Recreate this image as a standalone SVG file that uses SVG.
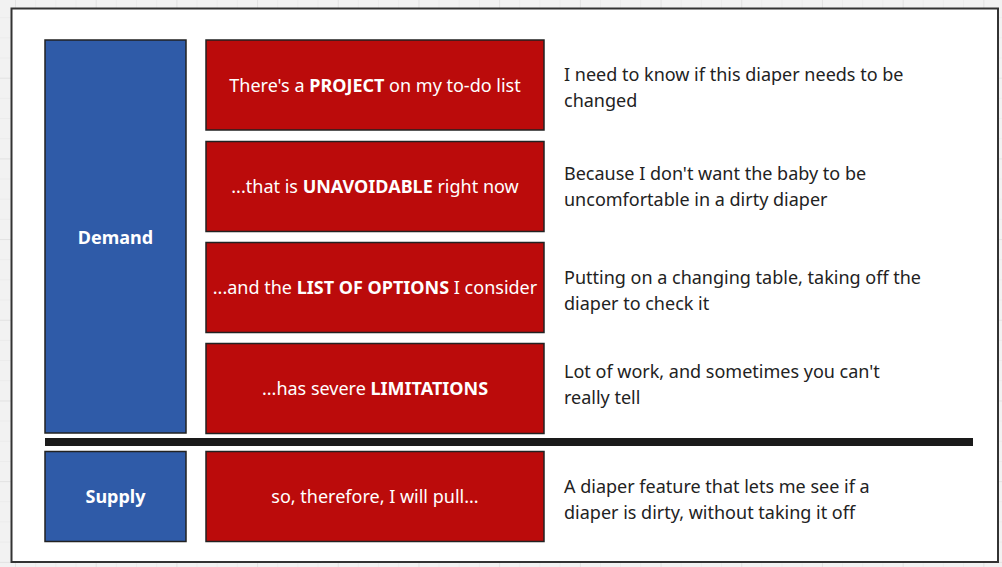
<svg xmlns="http://www.w3.org/2000/svg" width="1002" height="567" viewBox="0 0 1002 567">
<defs>
<pattern id="minor" width="20.17" height="20.17" patternUnits="userSpaceOnUse" x="15" y="-3">
<path d="M0 0H20.17M0 0V20.17" fill="none" stroke="#e6e6e6" stroke-width="1"/>
</pattern>
<pattern id="major" width="80.7" height="80.7" patternUnits="userSpaceOnUse" x="15" y="-3">
<path d="M0 0H80.7M0 0V80.7" fill="none" stroke="#dadada" stroke-width="1"/>
</pattern>
</defs>
<style>
.bg{fill:#f2f2f2}
.frame{fill:#fff;stroke:#333;stroke-width:2}
.blue{fill:#2f5ba8;stroke:#222;stroke-width:1.5}
.red{fill:#bb0b0b;stroke:#222;stroke-width:1.5}
.lbl{font-family:"Noto Sans","Open Sans",sans-serif;font-size:18px;fill:#fff;text-anchor:middle}
.b{font-weight:bold}
.desc{font-family:"Noto Sans","Open Sans",sans-serif;font-size:18px;fill:#222}
</style>
<rect class="bg" x="0" y="0" width="1002" height="567"/>
<rect x="0" y="0" width="1002" height="567" fill="url(#minor)"/>
<rect x="0" y="0" width="1002" height="567" fill="url(#major)"/>
<rect class="frame" x="11.5" y="8.5" width="986.5" height="553.5"/>

<g id="demand">
<rect class="blue" x="45" y="40" width="141" height="393"/>
<text class="lbl b" x="115.5" y="243.5">Demand</text>
</g>
<g id="supply">
<rect class="blue" x="45" y="451.5" width="141" height="90"/>
<text class="lbl b" x="115.5" y="503">Supply</text>
</g>

<g id="row1">
<rect class="red" x="206" y="40" width="338" height="90"/>
<text class="lbl" x="375" y="92">There's a <tspan class="b">PROJECT</tspan> on my to-do list</text>
<text class="desc" x="564" y="81">I need to know if this diaper needs to be</text>
<text class="desc" x="564" y="107">changed</text>
</g>
<g id="row2">
<rect class="red" x="206" y="141.5" width="338" height="90"/>
<text class="lbl" x="375" y="193">...that is <tspan class="b">UNAVOIDABLE</tspan> right now</text>
<text class="desc" x="564" y="180">Because I don't want the baby to be</text>
<text class="desc" x="564" y="206">uncomfortable in a dirty diaper</text>
</g>
<g id="row3">
<rect class="red" x="206" y="242.5" width="338" height="90"/>
<text class="lbl" x="375" y="294">...and the <tspan class="b">LIST OF OPTIONS</tspan> I consider</text>
<text class="desc" x="564" y="284">Putting on a changing table, taking off the</text>
<text class="desc" x="564" y="310">diaper to check it</text>
</g>
<g id="row4">
<rect class="red" x="206" y="343.5" width="338" height="90"/>
<text class="lbl" x="375" y="395">...has severe <tspan class="b">LIMITATIONS</tspan></text>
<text class="desc" x="564" y="378">Lot of work, and sometimes you can't</text>
<text class="desc" x="564" y="404">really tell</text>
</g>
<g id="row5">
<rect class="red" x="206" y="451.5" width="338" height="90"/>
<text class="lbl" x="375" y="503">so, therefore, I will pull...</text>
<text class="desc" x="564" y="493">A diaper feature that lets me see if a</text>
<text class="desc" x="564" y="519">diaper is dirty, without taking it off</text>
</g>

<g id="connectors">
<line x1="45" y1="442" x2="973" y2="442" stroke="#1a1a1a" stroke-width="8"/>
</g>
</svg>
